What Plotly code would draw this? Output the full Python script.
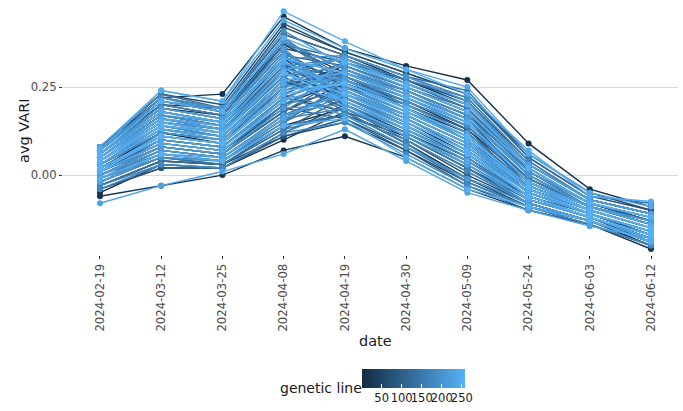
import plotly.graph_objects as go
from plotly.colors import sample_colorscale

dates = ["2024-02-19", "2024-03-12", "2024-03-25", "2024-04-08", "2024-04-19",
         "2024-04-30", "2024-05-09", "2024-05-24", "2024-06-03", "2024-06-12"]

line_ids = [2, 6, 11, 15, 19, 24, 28, 33, 37, 41, 46, 50, 55, 59, 63, 68, 72, 77, 81, 85,
            90, 94, 99, 103, 107, 112, 116, 121, 125, 129, 134, 138, 143, 147, 151, 156, 160, 165, 169, 173,
            178, 182, 187, 191, 195, 200, 204, 209, 213, 217, 222, 226, 231, 235, 239, 244, 248, 252, 255, 258,
            4, 9, 17, 22, 31, 39, 44, 53, 61, 66, 75, 83, 88, 97, 105, 110, 119, 127, 132, 141,
            149, 154, 163, 171, 176, 185, 193, 198, 206, 211, 219, 224, 228, 233, 237, 241, 246, 250, 254, 257]

v_0219 = [0.07, -0.05, 0.03, 0.08, -0.06, 0.01, 0.05, -0.02, 0.06, 0.02,
          0.04, -0.03, 0.075, 0.00, 0.03, 0.06, -0.04, 0.02, 0.05, 0.01,
          -0.01, 0.07, 0.04, 0.03, -0.02, 0.06, 0.00, 0.05, 0.02, 0.08,
          -0.03, 0.04, 0.01, 0.06, 0.03, -0.01, 0.05, 0.07, 0.02, 0.00,
          0.04, -0.04, 0.06, 0.03, 0.01, 0.05, -0.02, 0.07, 0.02, 0.04,
          0.00, 0.06, -0.08, 0.03, 0.05, 0.01, 0.07, -0.01, 0.04, 0.02,
          0.05, 0.02, -0.03, 0.07, 0.04, 0.00, 0.06, 0.01, -0.02, 0.08,
          0.03, 0.05, -0.04, 0.02, 0.06, 0.04, 0.00, 0.07, 0.03, -0.01,
          0.05, 0.02, 0.06, 0.04, -0.03, 0.01, 0.07, 0.03, 0.05, 0.00,
          0.06, 0.02, 0.04, -0.02, 0.08, 0.03, 0.05, 0.01, 0.06, 0.04]
v_0312 = [0.21, 0.03, 0.12, 0.22, -0.03, 0.08, 0.17, 0.05, 0.19, 0.10,
          0.15, 0.04, 0.20, 0.07, 0.13, 0.18, 0.02, 0.11, 0.16, 0.09,
          0.06, 0.21, 0.14, 0.12, 0.05, 0.19, 0.08, 0.17, 0.10, 0.23,
          0.04, 0.15, 0.09, 0.20, 0.13, 0.07, 0.16, 0.22, 0.11, 0.06,
          0.14, 0.03, 0.19, 0.12, 0.08, 0.17, 0.05, 0.21, 0.10, 0.15,
          0.07, 0.18, -0.03, 0.13, 0.16, 0.09, 0.24, 0.06, 0.14, 0.11,
          0.18, 0.12, 0.04, 0.22, 0.15, 0.08, 0.20, 0.10, 0.06, 0.23,
          0.14, 0.17, 0.02, 0.11, 0.19, 0.16, 0.07, 0.21, 0.13, 0.05,
          0.18, 0.09, 0.20, 0.15, 0.03, 0.12, 0.22, 0.14, 0.17, 0.08,
          0.19, 0.10, 0.16, 0.06, 0.24, 0.13, 0.18, 0.11, 0.21, 0.15]
v_0325 = [0.18, 0.02, 0.10, 0.23, 0.00, 0.06, 0.14, 0.04, 0.17, 0.08,
          0.12, 0.03, 0.19, 0.05, 0.11, 0.15, 0.02, 0.09, 0.13, 0.07,
          0.04, 0.18, 0.12, 0.10, 0.03, 0.16, 0.06, 0.14, 0.08, 0.19,
          0.03, 0.13, 0.07, 0.17, 0.11, 0.05, 0.14, 0.18, 0.09, 0.04,
          0.12, 0.02, 0.16, 0.10, 0.06, 0.15, 0.04, 0.19, 0.08, 0.13,
          0.05, 0.15, 0.01, 0.11, 0.14, 0.07, 0.21, 0.04, 0.12, 0.09,
          0.15, 0.09, 0.03, 0.19, 0.13, 0.06, 0.17, 0.08, 0.04, 0.20,
          0.11, 0.14, 0.02, 0.09, 0.16, 0.13, 0.05, 0.18, 0.10, 0.03,
          0.15, 0.07, 0.17, 0.12, 0.02, 0.10, 0.19, 0.11, 0.14, 0.06,
          0.16, 0.08, 0.13, 0.05, 0.21, 0.10, 0.15, 0.09, 0.18, 0.12]
v_0408 = [0.38, 0.10, 0.26, 0.45, 0.07, 0.20, 0.33, 0.14, 0.36, 0.22,
          0.30, 0.11, 0.42, 0.17, 0.27, 0.34, 0.12, 0.24, 0.31, 0.19,
          0.15, 0.37, 0.28, 0.25, 0.13, 0.35, 0.18, 0.32, 0.21, 0.40,
          0.14, 0.29, 0.20, 0.36, 0.26, 0.16, 0.31, 0.39, 0.23, 0.15,
          0.28, 0.12, 0.35, 0.25, 0.19, 0.33, 0.16, 0.38, 0.22, 0.30,
          0.17, 0.34, 0.06, 0.27, 0.32, 0.21, 0.465, 0.14, 0.29, 0.24,
          0.33, 0.25, 0.14, 0.40, 0.29, 0.18, 0.37, 0.22, 0.16, 0.43,
          0.27, 0.31, 0.11, 0.23, 0.35, 0.30, 0.17, 0.39, 0.26, 0.13,
          0.34, 0.20, 0.38, 0.28, 0.12, 0.24, 0.41, 0.27, 0.32, 0.19,
          0.36, 0.21, 0.30, 0.16, 0.44, 0.26, 0.33, 0.23, 0.39, 0.29]
v_0419 = [0.30, 0.18, 0.25, 0.36, 0.11, 0.27, 0.22, 0.17, 0.32, 0.28,
          0.21, 0.15, 0.35, 0.24, 0.19, 0.31, 0.20, 0.29, 0.23, 0.16,
          0.26, 0.33, 0.18, 0.30, 0.22, 0.25, 0.28, 0.20, 0.32, 0.34,
          0.17, 0.27, 0.24, 0.21, 0.29, 0.19, 0.33, 0.26, 0.18, 0.23,
          0.31, 0.15, 0.22, 0.28, 0.20, 0.34, 0.25, 0.30, 0.17, 0.27,
          0.23, 0.19, 0.13, 0.29, 0.24, 0.32, 0.38, 0.16, 0.21, 0.26,
          0.27, 0.31, 0.19, 0.34, 0.22, 0.26, 0.29, 0.18, 0.24, 0.35,
          0.20, 0.28, 0.16, 0.30, 0.25, 0.33, 0.21, 0.27, 0.32, 0.17,
          0.23, 0.29, 0.26, 0.34, 0.19, 0.28, 0.31, 0.22, 0.25, 0.30,
          0.20, 0.27, 0.33, 0.24, 0.36, 0.21, 0.29, 0.26, 0.32, 0.23]
v_0430 = [0.24, 0.09, 0.18, 0.31, 0.05, 0.21, 0.15, 0.11, 0.27, 0.20,
          0.13, 0.07, 0.29, 0.17, 0.10, 0.25, 0.12, 0.22, 0.16, 0.08,
          0.19, 0.27, 0.12, 0.23, 0.14, 0.20, 0.22, 0.13, 0.26, 0.28,
          0.10, 0.21, 0.16, 0.14, 0.24, 0.11, 0.27, 0.19, 0.09, 0.17,
          0.25, 0.06, 0.15, 0.22, 0.13, 0.28, 0.18, 0.24, 0.08, 0.20,
          0.16, 0.12, 0.04, 0.23, 0.17, 0.26, 0.30, 0.05, 0.14, 0.19,
          0.19, 0.25, 0.11, 0.27, 0.14, 0.20, 0.23, 0.09, 0.17, 0.29,
          0.12, 0.21, 0.07, 0.24, 0.18, 0.26, 0.13, 0.20, 0.25, 0.08,
          0.15, 0.22, 0.19, 0.28, 0.10, 0.21, 0.24, 0.14, 0.17, 0.23,
          0.11, 0.19, 0.26, 0.16, 0.30, 0.13, 0.22, 0.18, 0.25, 0.15]
v_0509 = [0.17, -0.01, 0.10, 0.27, -0.04, 0.13, 0.06, 0.02, 0.20, 0.12,
          0.04, -0.02, 0.23, 0.09, 0.00, 0.18, 0.03, 0.15, 0.08, -0.01,
          0.11, 0.21, 0.03, 0.16, 0.05, 0.13, 0.15, 0.04, 0.19, 0.24,
          0.01, 0.14, 0.07, 0.06, 0.17, 0.02, 0.22, 0.10, -0.02, 0.09,
          0.18, -0.03, 0.07, 0.14, 0.05, 0.21, 0.11, 0.16, -0.01, 0.12,
          0.08, 0.03, -0.05, 0.15, 0.09, 0.20, 0.23, -0.04, 0.06, 0.11,
          0.12, 0.18, 0.02, 0.21, 0.06, 0.13, 0.16, -0.01, 0.09, 0.23,
          0.04, 0.14, -0.03, 0.17, 0.10, 0.20, 0.05, 0.12, 0.19, -0.02,
          0.07, 0.15, 0.11, 0.22, 0.01, 0.14, 0.17, 0.06, 0.09, 0.16,
          0.03, 0.11, 0.20, 0.08, 0.25, 0.04, 0.15, 0.10, 0.18, 0.07]
v_0524 = [0.02, -0.08, -0.03, 0.09, -0.10, -0.02, -0.06, -0.07, 0.03, -0.04,
          -0.06, -0.09, 0.06, -0.05, -0.08, 0.01, -0.07, -0.01, -0.05, -0.09,
          -0.03, 0.04, -0.07, -0.02, -0.06, -0.04, -0.01, -0.06, 0.02, 0.05,
          -0.08, -0.03, -0.05, -0.06, 0.00, -0.08, 0.04, -0.04, -0.09, -0.05,
          0.01, -0.09, -0.05, -0.02, -0.07, 0.03, -0.03, 0.00, -0.08, -0.04,
          -0.05, -0.07, -0.10, -0.02, -0.04, 0.02, 0.07, -0.09, -0.06, -0.03,
          -0.03, 0.01, -0.08, 0.03, -0.06, -0.02, 0.00, -0.09, -0.04, 0.05,
          -0.07, -0.01, -0.10, 0.02, -0.05, 0.02, -0.07, -0.03, 0.01, -0.09,
          -0.06, -0.01, -0.04, 0.04, -0.08, -0.02, 0.00, -0.06, -0.05, 0.01,
          -0.08, -0.04, 0.03, -0.05, 0.06, -0.07, -0.02, -0.04, 0.02, -0.06]
v_0603 = [-0.08, -0.13, -0.10, -0.04, -0.14, -0.09, -0.12, -0.12, -0.07, -0.11,
          -0.12, -0.14, -0.05, -0.11, -0.13, -0.08, -0.12, -0.09, -0.11, -0.13,
          -0.10, -0.07, -0.12, -0.09, -0.12, -0.10, -0.09, -0.11, -0.08, -0.06,
          -0.13, -0.10, -0.11, -0.12, -0.09, -0.13, -0.07, -0.10, -0.13, -0.11,
          -0.08, -0.14, -0.11, -0.09, -0.12, -0.07, -0.10, -0.09, -0.13, -0.10,
          -0.11, -0.12, -0.145, -0.09, -0.11, -0.08, -0.06, -0.13, -0.12, -0.10,
          -0.10, -0.08, -0.13, -0.07, -0.12, -0.10, -0.09, -0.13, -0.11, -0.06,
          -0.12, -0.09, -0.14, -0.08, -0.11, -0.08, -0.12, -0.10, -0.09, -0.13,
          -0.12, -0.09, -0.11, -0.07, -0.13, -0.10, -0.09, -0.12, -0.11, -0.08,
          -0.13, -0.11, -0.07, -0.11, -0.05, -0.12, -0.10, -0.11, -0.08, -0.12]
v_0612 = [-0.13, -0.20, -0.15, -0.09, -0.21, -0.14, -0.18, -0.19, -0.11, -0.16,
          -0.18, -0.20, -0.10, -0.17, -0.19, -0.12, -0.18, -0.14, -0.17, -0.19,
          -0.15, -0.11, -0.18, -0.14, -0.17, -0.15, -0.13, -0.17, -0.12, -0.08,
          -0.19, -0.15, -0.16, -0.18, -0.13, -0.19, -0.11, -0.15, -0.19, -0.16,
          -0.12, -0.20, -0.16, -0.14, -0.18, -0.11, -0.15, -0.13, -0.19, -0.15,
          -0.16, -0.17, -0.18, -0.14, -0.16, -0.12, -0.075, -0.19, -0.17, -0.15,
          -0.15, -0.13, -0.19, -0.11, -0.17, -0.15, -0.14, -0.19, -0.16, -0.10,
          -0.18, -0.14, -0.20, -0.12, -0.16, -0.13, -0.18, -0.15, -0.14, -0.19,
          -0.17, -0.13, -0.16, -0.11, -0.19, -0.15, -0.14, -0.17, -0.16, -0.12,
          -0.18, -0.16, -0.11, -0.16, -0.09, -0.18, -0.15, -0.16, -0.12, -0.17]

columns = [v_0219, v_0312, v_0325, v_0408, v_0419, v_0430, v_0509, v_0524, v_0603, v_0612]

CMIN, CMAX = 1, 258
scale = [[0, "#132B43"], [1, "#56B1F7"]]

# plot-area geometry (pixels)
PL, PR, PT, PB = 63, 678, 5, 255
PW, PH = PR - PL, PB - PT

fig = go.Figure()
order = sorted(range(len(line_ids)), key=lambda k: line_ids[k])
for i in order:
    lid = line_ids[i]
    col = sample_colorscale(scale, [(lid - CMIN) / (CMAX - CMIN)])[0]
    ys = [c[i] for c in columns]
    fig.add_trace(go.Scatter(
        x=dates, y=ys, mode="lines+markers",
        line=dict(color=col, width=1.4),
        marker=dict(color=col, size=6),
        showlegend=False, name=str(lid)))

# colorbar carrier
fig.add_trace(go.Scatter(
    x=[dates[0], dates[0]], y=[v_0219[0], v_0219[0]], mode="markers",
    marker=dict(color=[CMIN, CMAX], cmin=CMIN, cmax=CMAX, colorscale=scale, opacity=0, size=1,
                showscale=True,
                colorbar=dict(orientation="h", lenmode="pixels", len=103, thickness=19,
                              x=(413.5 - PL) / PW, xanchor="center", y=-(369 - PB) / PH, yanchor="top",
                              tickvals=[50, 100, 150, 200, 250], ticks="inside", ticklen=4,
                              tickangle=0, tickcolor="white", outlinewidth=0,
                              tickfont=dict(size=11.5, color="#1a1a1a"), ypad=0, xpad=0)),
    showlegend=False, hoverinfo="skip"))

fig.add_annotation(text="genetic line", xref="paper", yref="paper",
                   x=(364 - PL) / PW, y=-(388 - PB) / PH, xanchor="right", yanchor="middle",
                   showarrow=False, font=dict(size=14, color="#1a1a1a"))
fig.add_annotation(text="avg VARI", xref="paper", yref="paper", textangle=-90,
                   x=(24 - PL) / PW, y=(PB - 131) / PH, xanchor="center", yanchor="middle",
                   showarrow=False, font=dict(size=14.5, color="#1a1a1a"))
fig.add_annotation(text="date", xref="paper", yref="paper",
                   x=(375 - PL) / PW, y=-(341 - PB) / PH, xanchor="center", yanchor="middle",
                   showarrow=False, font=dict(size=14.5, color="#1a1a1a"))

fig.update_layout(
    width=683, height=411,
    margin=dict(l=PL, r=683 - PR, t=PT, b=411 - PB, autoexpand=False),
    plot_bgcolor="white", paper_bgcolor="white",
    font=dict(family="DejaVu Sans", color="#1a1a1a"),
    xaxis=dict(type="category", range=[-0.604, 9.441], showgrid=False, zeroline=False,
               automargin=False,
               tickangle=-90, ticks="outside", ticklen=3, tickcolor="#333333",
               tickfont=dict(size=11.7, color="#4d4d4d")),
    yaxis=dict(range=[-0.227, 0.483], tickvals=[0.0, 0.25], ticktext=["0.00", "0.25"],
               automargin=False,
               showgrid=True, gridcolor="#d9d9d9", gridwidth=1, zeroline=False,
               ticks="outside", ticklen=3, tickcolor="#333333",
               tickfont=dict(size=11.7, color="#4d4d4d")),
)

fig.write_html("out.html", config={"displayModeBar": False},
               post_script="document.body.style.margin='0';")
